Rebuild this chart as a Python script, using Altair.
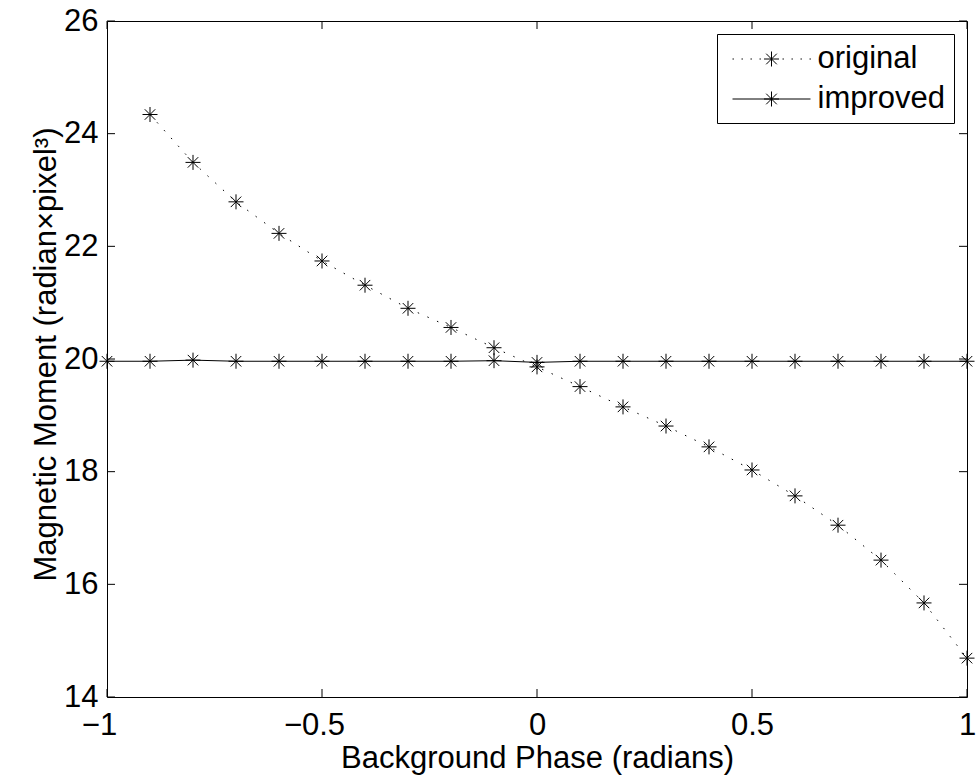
import altair as alt
import pandas as pd

# ---- data ----
x_original = [-0.9, -0.8, -0.7, -0.6, -0.5, -0.4, -0.3, -0.2, -0.1, 0.0,
              0.1, 0.2, 0.3, 0.4, 0.5, 0.6, 0.7, 0.8, 0.9, 1.0]
y_original = [24.34, 23.49, 22.79, 22.23, 21.74, 21.31, 20.90, 20.56, 20.20, 19.86,
              19.51, 19.15, 18.81, 18.44, 18.03, 17.57, 17.05, 16.43, 15.67, 14.69]
x_improved = [-1.0, -0.9, -0.8, -0.7, -0.6, -0.5, -0.4, -0.3, -0.2, -0.1, 0.0,
              0.1, 0.2, 0.3, 0.4, 0.5, 0.6, 0.7, 0.8, 0.9, 1.0]
y_improved = [19.96, 19.96, 19.98, 19.96, 19.96, 19.96, 19.96, 19.96, 19.96, 19.97, 19.94,
              19.96, 19.96, 19.96, 19.96, 19.96, 19.96, 19.96, 19.96, 19.96, 19.96]
series_names = ["original", "improved"]
x_ticks = [-1, -0.5, 0, 0.5, 1]
y_ticks = [14, 16, 18, 20, 22, 24, 26]

df = pd.concat([
    pd.DataFrame({"x": x_original, "y": y_original, "series": series_names[0]}),
    pd.DataFrame({"x": x_improved, "y": y_improved, "series": series_names[1]}),
], ignore_index=True)

FONT = "Liberation Sans, Arial, Helvetica, sans-serif"
W, H = 860, 676
TL = 8  # tick length

STAR = "M-1,0H1M0,-1V1M-0.7,-0.7L0.7,0.7M-0.7,0.7L0.7,-0.7"

# legend symbol: size 961 -> 15.5 px per path unit
U = 15.5
def u(px):
    return round(px / U, 3)

LSTAR = (f"M{u(-7.5)},0H{u(7.5)}M0,{u(-7.5)}V{u(7.5)}"
         f"M{u(-5.3)},{u(-5.3)}L{u(5.3)},{u(5.3)}M{u(-5.3)},{u(5.3)}L{u(5.3)},{u(-5.3)}")
DOTS = "".join(f"M{u(d)},0h{u(1.4)}" for d in [-39, -30, -21, -12, 11, 20, 29, 38])
LEG_ORIG = DOTS + LSTAR
LEG_IMPR = f"M{u(-39)},0H{u(39)}" + LSTAR

xscale = alt.Scale(domain=[-1, 1], nice=False, zero=False)
yscale = alt.Scale(domain=[14, 26], nice=False, zero=False)

xaxis = alt.Axis(values=x_ticks, format=".1~f", ticks=False, tickSize=0, domain=False, grid=False,
                 labelFlush=False, labelFont=FONT, labelFontSize=31, labelColor="black",
                 labelBaseline="alphabetic", labelPadding=37,
                 labelOffset={"condition": {"test": "datum.value < 0", "value": -8}, "value": 0},
                 title="Background Phase (radians)", titleFont=FONT, titleFontSize=31,
                 titleFontWeight="normal", titleColor="black",
                 titleBaseline="alphabetic", titleX=W / 2, titleY=70, titleAlign="center")
yaxis = alt.Axis(values=y_ticks, ticks=False, tickSize=0, domain=False, grid=False,
                 labelFlush=False, labelFont=FONT, labelFontSize=31, labelColor="black",
                 labelPadding=9,
                 title="Magnetic Moment (radian×pixel³)", titleFont=FONT, titleFontSize=31,
                 titleFontWeight="normal", titleColor="black", titleAngle=270,
                 titleBaseline="alphabetic", titleX=-52, titleY=333, titleAlign="center")

base = alt.Chart(df)
X = alt.X("x:Q", scale=xscale, axis=xaxis)
Y = alt.Y("y:Q", scale=yscale, axis=yaxis)

line_orig = base.transform_filter("datum.series == 'original'").mark_line(
    color="black", strokeWidth=1, strokeDash=[1.5, 9]).encode(x=X, y=Y, order="x:Q")
line_impr = base.transform_filter("datum.series == 'improved'").mark_line(
    color="black", strokeWidth=1).encode(x=X, y=Y, order="x:Q")
points = base.mark_point(shape=STAR, size=225, filled=False, color="black",
                         strokeWidth=1, opacity=1).encode(x=X, y=Y)

PAD = 9
legend_layer = base.transform_filter("datum.y > 1000").mark_point(
    filled=False, color="black", strokeWidth=1, size=961, opacity=1
).encode(
    x=X, y=Y,
    shape=alt.Shape("series:N", scale=alt.Scale(domain=series_names, range=[LEG_ORIG, LEG_IMPR]),
                    legend=alt.Legend(title=None, orient="top-right", offset=13, padding=PAD,
                                      fillColor="white", strokeColor="black", cornerRadius=0,
                                      labelFont=FONT, labelFontSize=31, labelColor="black",
                                      labelLimit=400, symbolSize=961, symbolStrokeWidth=1,
                                      symbolStrokeColor="black", symbolOffset=29.5,
                                      labelOffset=30, rowPadding=9))
)

xt = alt.Chart(pd.DataFrame({"v": x_ticks}))
yt = alt.Chart(pd.DataFrame({"v": y_ticks}))
XT = alt.X("v:Q", scale=xscale, axis=xaxis)
YT = alt.Y("v:Q", scale=yscale, axis=yaxis)
xt_bottom = xt.mark_rule(color="black", strokeWidth=1).encode(x=XT, y=alt.value(H), y2=alt.value(H - TL))
xt_top = xt.mark_rule(color="black", strokeWidth=1).encode(x=XT, y=alt.value(0), y2=alt.value(TL))
yt_left = yt.mark_rule(color="black", strokeWidth=1).encode(y=YT, x=alt.value(0), x2=alt.value(TL))
yt_right = yt.mark_rule(color="black", strokeWidth=1).encode(y=YT, x=alt.value(W), x2=alt.value(W - TL))

chart = alt.layer(
    line_orig, line_impr, points, legend_layer, xt_bottom, xt_top, yt_left, yt_right
).properties(
    width=W, height=H,
    autosize=alt.AutoSizeParams(type="none"),
    padding={"left": 107, "top": 21, "right": 9, "bottom": 83},
    background="white",
).configure_view(stroke="black", strokeWidth=1)

chart.save("out.html", embed_options={"renderer": "svg", "actions": False})
